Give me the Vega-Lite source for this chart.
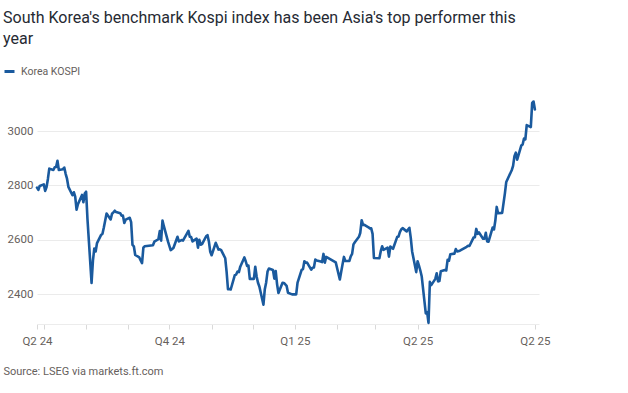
{
  "$schema": "https://vega.github.io/schema/vega-lite/v6.json",
  "width": 502,
  "height": 226,
  "autosize": {"type": "none"},
  "padding": {"left": 37, "top": 98, "right": 89, "bottom": 69},
  "background": "white",
  "config": {"view": {"stroke": null}, "font": "Roboto"},
  "title": {
    "text": ["South Korea's benchmark Kospi index has been Asia's top performer this", "year"],
    "anchor": "start",
    "frame": "group",
    "dx": -34,
    "offset": 18,
    "font": "Roboto",
    "fontSize": 16,
    "fontWeight": "normal",
    "color": "#262a33",
    "lineHeight": 21
  },
  "data": {
    "values": [
      {"date": "2024-06-26", "close": 2792}, {"date": "2024-06-27", "close": 2784}, {"date": "2024-06-28", "close": 2798},
      {"date": "2024-07-01", "close": 2804}, {"date": "2024-07-02", "close": 2780}, {"date": "2024-07-03", "close": 2794},
      {"date": "2024-07-04", "close": 2824}, {"date": "2024-07-05", "close": 2862}, {"date": "2024-07-08", "close": 2857},
      {"date": "2024-07-09", "close": 2867}, {"date": "2024-07-10", "close": 2868}, {"date": "2024-07-11", "close": 2891},
      {"date": "2024-07-12", "close": 2857}, {"date": "2024-07-15", "close": 2860}, {"date": "2024-07-16", "close": 2866},
      {"date": "2024-07-17", "close": 2843}, {"date": "2024-07-18", "close": 2825}, {"date": "2024-07-19", "close": 2795},
      {"date": "2024-07-22", "close": 2764}, {"date": "2024-07-23", "close": 2775}, {"date": "2024-07-24", "close": 2759},
      {"date": "2024-07-25", "close": 2711}, {"date": "2024-07-26", "close": 2731}, {"date": "2024-07-29", "close": 2765},
      {"date": "2024-07-30", "close": 2738}, {"date": "2024-07-31", "close": 2770}, {"date": "2024-08-01", "close": 2777},
      {"date": "2024-08-02", "close": 2676}, {"date": "2024-08-05", "close": 2441}, {"date": "2024-08-06", "close": 2523},
      {"date": "2024-08-07", "close": 2568}, {"date": "2024-08-08", "close": 2557}, {"date": "2024-08-09", "close": 2588},
      {"date": "2024-08-12", "close": 2618}, {"date": "2024-08-13", "close": 2622}, {"date": "2024-08-14", "close": 2645},
      {"date": "2024-08-16", "close": 2697}, {"date": "2024-08-19", "close": 2675}, {"date": "2024-08-20", "close": 2696},
      {"date": "2024-08-21", "close": 2701}, {"date": "2024-08-22", "close": 2707}, {"date": "2024-08-23", "close": 2702},
      {"date": "2024-08-26", "close": 2698}, {"date": "2024-08-27", "close": 2689}, {"date": "2024-08-28", "close": 2689},
      {"date": "2024-08-29", "close": 2662}, {"date": "2024-08-30", "close": 2674}, {"date": "2024-09-02", "close": 2681},
      {"date": "2024-09-03", "close": 2665}, {"date": "2024-09-04", "close": 2581}, {"date": "2024-09-05", "close": 2576},
      {"date": "2024-09-06", "close": 2544}, {"date": "2024-09-09", "close": 2535}, {"date": "2024-09-10", "close": 2524},
      {"date": "2024-09-11", "close": 2514}, {"date": "2024-09-12", "close": 2572}, {"date": "2024-09-13", "close": 2576},
      {"date": "2024-09-19", "close": 2580}, {"date": "2024-09-20", "close": 2593}, {"date": "2024-09-23", "close": 2602},
      {"date": "2024-09-24", "close": 2632}, {"date": "2024-09-25", "close": 2597}, {"date": "2024-09-26", "close": 2671},
      {"date": "2024-09-27", "close": 2650}, {"date": "2024-09-30", "close": 2594}, {"date": "2024-10-02", "close": 2562},
      {"date": "2024-10-04", "close": 2570}, {"date": "2024-10-07", "close": 2611}, {"date": "2024-10-08", "close": 2594},
      {"date": "2024-10-10", "close": 2599}, {"date": "2024-10-11", "close": 2597}, {"date": "2024-10-14", "close": 2624},
      {"date": "2024-10-15", "close": 2633}, {"date": "2024-10-16", "close": 2611}, {"date": "2024-10-17", "close": 2610},
      {"date": "2024-10-18", "close": 2594}, {"date": "2024-10-21", "close": 2604}, {"date": "2024-10-22", "close": 2571},
      {"date": "2024-10-23", "close": 2600}, {"date": "2024-10-24", "close": 2582}, {"date": "2024-10-25", "close": 2584},
      {"date": "2024-10-28", "close": 2613}, {"date": "2024-10-29", "close": 2617}, {"date": "2024-10-30", "close": 2594},
      {"date": "2024-10-31", "close": 2556}, {"date": "2024-11-01", "close": 2543}, {"date": "2024-11-04", "close": 2589},
      {"date": "2024-11-05", "close": 2577}, {"date": "2024-11-06", "close": 2564}, {"date": "2024-11-07", "close": 2565},
      {"date": "2024-11-08", "close": 2562}, {"date": "2024-11-11", "close": 2532}, {"date": "2024-11-12", "close": 2482},
      {"date": "2024-11-13", "close": 2418}, {"date": "2024-11-14", "close": 2419}, {"date": "2024-11-15", "close": 2417},
      {"date": "2024-11-18", "close": 2470}, {"date": "2024-11-19", "close": 2472}, {"date": "2024-11-20", "close": 2483},
      {"date": "2024-11-21", "close": 2481}, {"date": "2024-11-22", "close": 2501}, {"date": "2024-11-25", "close": 2535},
      {"date": "2024-11-26", "close": 2521}, {"date": "2024-11-27", "close": 2504}, {"date": "2024-11-28", "close": 2505},
      {"date": "2024-11-29", "close": 2456}, {"date": "2024-12-02", "close": 2456}, {"date": "2024-12-03", "close": 2501},
      {"date": "2024-12-04", "close": 2465}, {"date": "2024-12-05", "close": 2442}, {"date": "2024-12-06", "close": 2428},
      {"date": "2024-12-09", "close": 2361}, {"date": "2024-12-10", "close": 2418}, {"date": "2024-12-11", "close": 2443},
      {"date": "2024-12-12", "close": 2483}, {"date": "2024-12-13", "close": 2494}, {"date": "2024-12-16", "close": 2489},
      {"date": "2024-12-17", "close": 2457}, {"date": "2024-12-18", "close": 2485}, {"date": "2024-12-19", "close": 2436},
      {"date": "2024-12-20", "close": 2404}, {"date": "2024-12-23", "close": 2442}, {"date": "2024-12-24", "close": 2441},
      {"date": "2024-12-26", "close": 2430}, {"date": "2024-12-27", "close": 2405}, {"date": "2024-12-30", "close": 2399},
      {"date": "2025-01-02", "close": 2399}, {"date": "2025-01-03", "close": 2442}, {"date": "2025-01-06", "close": 2489},
      {"date": "2025-01-07", "close": 2492}, {"date": "2025-01-08", "close": 2521}, {"date": "2025-01-09", "close": 2516},
      {"date": "2025-01-10", "close": 2516}, {"date": "2025-01-13", "close": 2490}, {"date": "2025-01-14", "close": 2497},
      {"date": "2025-01-15", "close": 2498}, {"date": "2025-01-16", "close": 2527}, {"date": "2025-01-17", "close": 2524},
      {"date": "2025-01-20", "close": 2520}, {"date": "2025-01-21", "close": 2518}, {"date": "2025-01-22", "close": 2548},
      {"date": "2025-01-23", "close": 2516}, {"date": "2025-01-24", "close": 2537}, {"date": "2025-01-31", "close": 2517},
      {"date": "2025-02-03", "close": 2454}, {"date": "2025-02-04", "close": 2482}, {"date": "2025-02-05", "close": 2510},
      {"date": "2025-02-06", "close": 2537}, {"date": "2025-02-07", "close": 2522}, {"date": "2025-02-10", "close": 2522},
      {"date": "2025-02-11", "close": 2539}, {"date": "2025-02-12", "close": 2548}, {"date": "2025-02-13", "close": 2583},
      {"date": "2025-02-14", "close": 2591}, {"date": "2025-02-17", "close": 2611}, {"date": "2025-02-18", "close": 2626},
      {"date": "2025-02-19", "close": 2672}, {"date": "2025-02-20", "close": 2655}, {"date": "2025-02-21", "close": 2655},
      {"date": "2025-02-24", "close": 2646}, {"date": "2025-02-25", "close": 2642}, {"date": "2025-02-26", "close": 2642},
      {"date": "2025-02-27", "close": 2622}, {"date": "2025-02-28", "close": 2533}, {"date": "2025-03-04", "close": 2532},
      {"date": "2025-03-05", "close": 2558}, {"date": "2025-03-06", "close": 2576}, {"date": "2025-03-07", "close": 2563},
      {"date": "2025-03-10", "close": 2571}, {"date": "2025-03-11", "close": 2538}, {"date": "2025-03-12", "close": 2575},
      {"date": "2025-03-13", "close": 2571}, {"date": "2025-03-14", "close": 2567}, {"date": "2025-03-17", "close": 2610},
      {"date": "2025-03-18", "close": 2612}, {"date": "2025-03-19", "close": 2628}, {"date": "2025-03-20", "close": 2638},
      {"date": "2025-03-21", "close": 2643}, {"date": "2025-03-24", "close": 2631}, {"date": "2025-03-25", "close": 2638},
      {"date": "2025-03-26", "close": 2644}, {"date": "2025-03-27", "close": 2607}, {"date": "2025-03-28", "close": 2557},
      {"date": "2025-03-31", "close": 2481}, {"date": "2025-04-01", "close": 2521}, {"date": "2025-04-02", "close": 2505},
      {"date": "2025-04-03", "close": 2487}, {"date": "2025-04-04", "close": 2466}, {"date": "2025-04-07", "close": 2329},
      {"date": "2025-04-08", "close": 2334}, {"date": "2025-04-09", "close": 2294}, {"date": "2025-04-10", "close": 2445},
      {"date": "2025-04-11", "close": 2433}, {"date": "2025-04-14", "close": 2456}, {"date": "2025-04-15", "close": 2477},
      {"date": "2025-04-16", "close": 2447}, {"date": "2025-04-17", "close": 2448}, {"date": "2025-04-18", "close": 2484},
      {"date": "2025-04-21", "close": 2489}, {"date": "2025-04-22", "close": 2487}, {"date": "2025-04-23", "close": 2526},
      {"date": "2025-04-24", "close": 2523}, {"date": "2025-04-25", "close": 2547}, {"date": "2025-04-28", "close": 2549},
      {"date": "2025-04-29", "close": 2566}, {"date": "2025-04-30", "close": 2557}, {"date": "2025-05-02", "close": 2560},
      {"date": "2025-05-07", "close": 2574}, {"date": "2025-05-08", "close": 2578}, {"date": "2025-05-09", "close": 2577},
      {"date": "2025-05-12", "close": 2608}, {"date": "2025-05-13", "close": 2609}, {"date": "2025-05-14", "close": 2640},
      {"date": "2025-05-15", "close": 2622}, {"date": "2025-05-16", "close": 2627}, {"date": "2025-05-19", "close": 2604},
      {"date": "2025-05-20", "close": 2604}, {"date": "2025-05-21", "close": 2626}, {"date": "2025-05-22", "close": 2594},
      {"date": "2025-05-23", "close": 2593}, {"date": "2025-05-26", "close": 2645}, {"date": "2025-05-27", "close": 2638},
      {"date": "2025-05-28", "close": 2671}, {"date": "2025-05-29", "close": 2721}, {"date": "2025-05-30", "close": 2698},
      {"date": "2025-06-02", "close": 2699}, {"date": "2025-06-04", "close": 2771}, {"date": "2025-06-05", "close": 2813},
      {"date": "2025-06-09", "close": 2856}, {"date": "2025-06-10", "close": 2872}, {"date": "2025-06-11", "close": 2908},
      {"date": "2025-06-12", "close": 2921}, {"date": "2025-06-13", "close": 2895}, {"date": "2025-06-16", "close": 2947},
      {"date": "2025-06-17", "close": 2951}, {"date": "2025-06-18", "close": 2973}, {"date": "2025-06-19", "close": 2970},
      {"date": "2025-06-20", "close": 3022}, {"date": "2025-06-23", "close": 3015}, {"date": "2025-06-24", "close": 3104},
      {"date": "2025-06-25", "close": 3109}, {"date": "2025-06-26", "close": 3080}
    ]
  },
  "mark": {"type": "line", "strokeWidth": 2.6, "strokeJoin": "round", "strokeCap": "round"},
  "encoding": {
    "x": {
      "field": "date",
      "type": "temporal",
      "scale": {
        "type": "utc",
        "domain": [
          {"year": 2024, "month": 6, "date": 26, "utc": true},
          {"year": 2025, "month": 6, "date": 29, "utc": true}
        ]
      },
      "axis": {
        "values": [
          {"year": 2024, "month": 6, "date": 26, "utc": true},
          {"year": 2024, "month": 7, "date": 1, "utc": true},
          {"year": 2024, "month": 8, "date": 1, "utc": true},
          {"year": 2024, "month": 9, "date": 1, "utc": true},
          {"year": 2024, "month": 10, "date": 1, "utc": true},
          {"year": 2024, "month": 11, "date": 1, "utc": true},
          {"year": 2024, "month": 12, "date": 1, "utc": true},
          {"year": 2025, "month": 1, "date": 1, "utc": true},
          {"year": 2025, "month": 2, "date": 1, "utc": true},
          {"year": 2025, "month": 3, "date": 1, "utc": true},
          {"year": 2025, "month": 4, "date": 1, "utc": true},
          {"year": 2025, "month": 6, "date": 26, "utc": true}
        ],
        "labelExpr": "utcFormat(datum.value, '%Y-%m-%d') == '2024-06-26' ? 'Q2 24' : utcFormat(datum.value, '%Y-%m-%d') == '2024-10-01' ? 'Q4 24' : utcFormat(datum.value, '%Y-%m-%d') == '2025-01-01' ? 'Q1 25' : utcFormat(datum.value, '%Y-%m-%d') == '2025-04-01' ? 'Q2 25' : utcFormat(datum.value, '%Y-%m-%d') == '2025-06-26' ? 'Q2 25' : ''",
        "grid": false,
        "domain": true,
        "domainColor": "#ececec",
        "ticks": true,
        "tickColor": "#d9d9d9",
        "tickSize": 5,
        "labelFont": "Roboto",
        "labelFontSize": 11.5,
        "labelColor": "#66605c",
        "labelPadding": 6,
        "labelFlush": false,
        "labelOverlap": false,
        "title": "Source: LSEG via markets.ft.com",
        "titleFont": "Roboto",
        "titleFontSize": 11,
        "titleFontWeight": "normal",
        "titleColor": "#66605c",
        "titleAnchor": "start",
        "titleAlign": "left",
        "titleBaseline": "middle",
        "titleX": -34,
        "titleY": 47
      }
    },
    "y": {
      "field": "close",
      "type": "quantitative",
      "scale": {"domain": [2290, 3122], "zero": false, "nice": false},
      "axis": {
        "values": [2400, 2600, 2800, 3000],
        "format": "d",
        "grid": true,
        "gridColor": "#ebebeb",
        "domain": false,
        "ticks": false,
        "tickSize": 0,
        "labelAlign": "left",
        "labelPadding": 30,
        "labelFont": "Roboto",
        "labelFontSize": 11.5,
        "labelColor": "#66605c",
        "title": null
      }
    },
    "color": {
      "datum": "Korea KOSPI",
      "type": "nominal",
      "scale": {"range": ["#1a5a9e"]},
      "legend": {
        "orient": "none",
        "legendX": -34,
        "legendY": -33,
        "title": null,
        "symbolType": "stroke",
        "symbolStrokeWidth": 3,
        "symbolSize": 100,
        "labelFont": "Roboto",
        "labelFontSize": 10.5,
        "labelColor": "#66605c",
        "labelOffset": 5
      }
    }
  }
}
